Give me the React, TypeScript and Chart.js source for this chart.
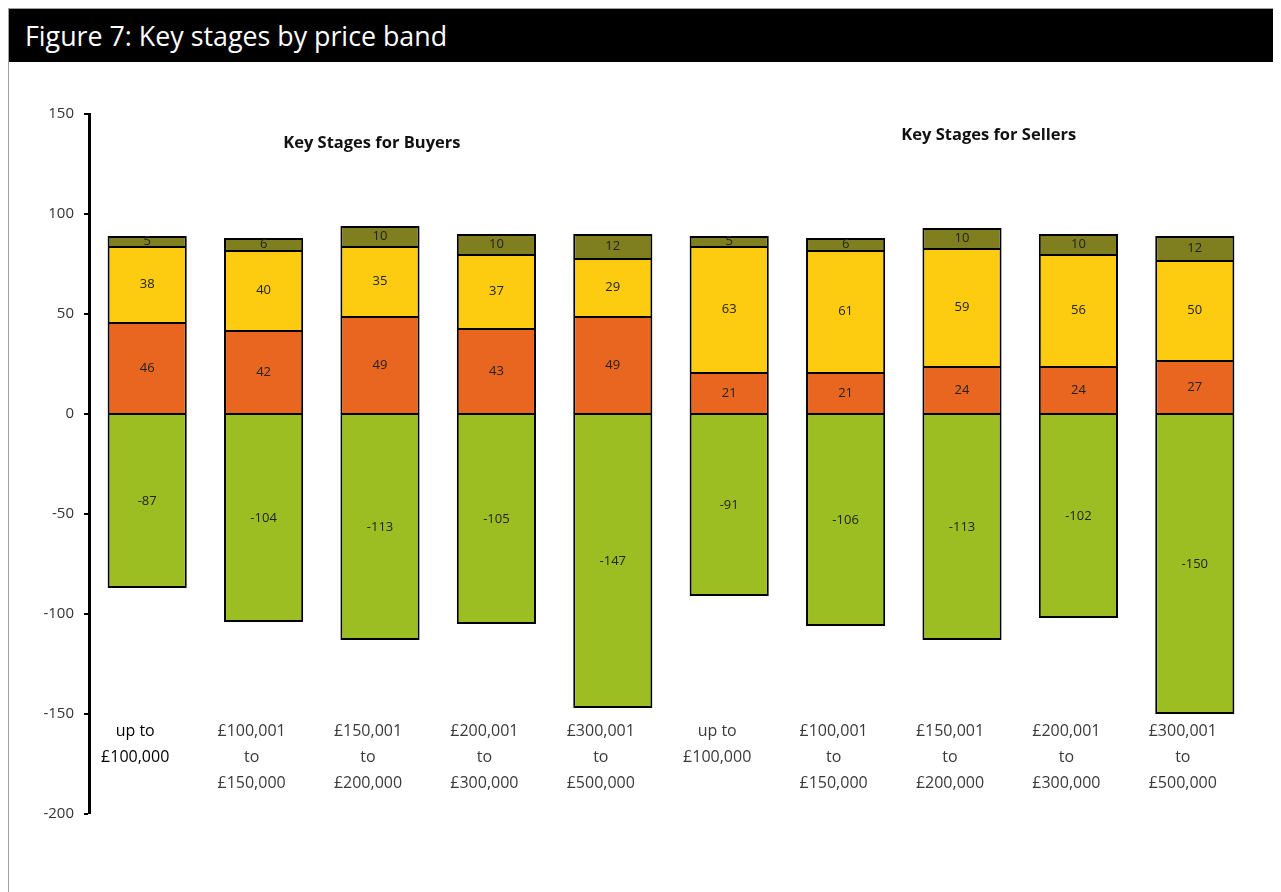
import React, { useEffect, useRef } from "react";
import { Chart, registerables } from "chart.js";

Chart.register(...registerables);

// ---- Data ----
const priceBands: string[][] = [
  ["up to", "£100,000"],
  ["£100,001", "to", "£150,000"],
  ["£150,001", "to", "£200,000"],
  ["£200,001", "to", "£300,000"],
  ["£300,001", "to", "£500,000"],
];
const categories: string[][] = [...priceBands, ...priceBands];

const stageGreen = [-87, -104, -113, -105, -147, -91, -106, -113, -102, -150];
const stageOrange = [46, 42, 49, 43, 49, 21, 21, 24, 24, 27];
const stageYellow = [38, 40, 35, 37, 29, 63, 61, 59, 56, 50];
const stageOlive = [5, 6, 10, 10, 12, 5, 6, 10, 10, 12];

const yMin = -200;
const yMax = 150;
const yStep = 50;

const panelTitles = ["Key Stages for Buyers", "Key Stages for Sellers"];
// anchor of each panel title: category index (fractional) and y value
const panelTitleAnchors = [
  { index: 1.93, value: 135.5 },
  { index: 7.23, value: 139.5 },
];

const FONT = "'Open Sans', 'Noto Sans', sans-serif";

const dataLabelPlugin = {
  id: "segmentLabels",
  afterDatasetsDraw(chart: any) {
    const ctx = chart.ctx;
    ctx.save();
    ctx.font = `13px ${FONT}`;
    ctx.fillStyle = "#222";
    ctx.textAlign = "center";
    ctx.textBaseline = "middle";
    chart.data.datasets.forEach((ds: any, di: number) => {
      const meta = chart.getDatasetMeta(di);
      meta.data.forEach((el: any, i: number) => {
        const v = ds.data[i];
        const y = (el.y + el.base) / 2;
        ctx.fillText(String(v), el.x, y);
      });
    });
    ctx.restore();
  },
};

const panelTitlePlugin = {
  id: "panelTitles",
  afterDraw(chart: any) {
    const ctx = chart.ctx;
    const xs = chart.scales.x;
    const ys = chart.scales.y;
    ctx.save();
    ctx.font = `bold 16.5px ${FONT}`;
    ctx.fillStyle = "#111";
    ctx.textAlign = "center";
    ctx.textBaseline = "middle";
    panelTitles.forEach((t, i) => {
      const a = panelTitleAnchors[i];
      ctx.fillText(t, xs.getPixelForValue(a.index), ys.getPixelForValue(a.value));
    });
    ctx.restore();
  },
};

function KeyStagesChart() {
  const ref = useRef<HTMLCanvasElement | null>(null);
  useEffect(() => {
    if (!ref.current) return;
    Chart.defaults.font.family = FONT;
    const common = {
      borderColor: "#000",
      borderSkipped: false,
      categoryPercentage: 1,
      barPercentage: 0.68,
    };
    const upper = { top: 2, left: 2, right: 2, bottom: 0 };
    const chart = new Chart(ref.current, {
      type: "bar",
      data: {
        labels: categories as any,
        datasets: [
          {
            label: "Stage 1",
            data: stageGreen,
            backgroundColor: "#9DBE22",
            borderWidth: { top: 1, left: 2, right: 2, bottom: 2 },
            ...common,
          },
          {
            label: "Stage 2",
            data: stageOrange,
            backgroundColor: "#E96620",
            borderWidth: { top: 2, left: 2, right: 2, bottom: 1 },
            ...common,
          },
          { label: "Stage 3", data: stageYellow, backgroundColor: "#FDCB0F", borderWidth: upper, ...common },
          { label: "Stage 4", data: stageOlive, backgroundColor: "#7F7F20", borderWidth: upper, ...common },
        ] as any,
      },
      options: {
        animation: false,
        responsive: true,
        maintainAspectRatio: false,
        layout: { padding: { top: 52, bottom: 78, left: 0, right: 23 } },
        plugins: {
          legend: { display: false },
          tooltip: { enabled: false },
        },
        scales: {
          x: {
            stacked: true,
            position: { y: -150 } as any,
            grid: { display: false, drawTicks: false },
            border: { display: false },
            ticks: {
              padding: 4,
              labelOffset: -12,
              maxRotation: 0,
              autoSkip: false,
              font: { size: 16, lineHeight: "26px" as any },
              color: (c: any) => (c.index === 0 ? "#000" : "#3a3a3a"),
            },
          },
          y: {
            stacked: true,
            min: yMin,
            max: yMax,
            afterFit: (s: any) => {
              s.width = 80;
            },
            grid: {
              display: true,
              drawOnChartArea: false,
              drawTicks: true,
              tickLength: 5,
              lineWidth: 0,
              tickWidth: 2,
              tickColor: "#000",
              color: "#000",
            },
            border: { display: true, color: "#000", width: 3 },
            ticks: {
              stepSize: yStep,
              padding: 10,
              font: { size: 15 },
              color: "#333",
            },
          },
        },
      },
      plugins: [dataLabelPlugin, panelTitlePlugin],
    } as any);
    return () => chart.destroy();
  }, []);
  return (
    <div style={{ position: "relative", width: 1267, height: 830 }}>
      <canvas ref={ref} />
    </div>
  );
}

export default function App() {
  return (
    <div
      style={{
        width: 1267,
        height: 900,
        border: "1px solid #a0a0a0",
        background: "#fff",
        fontFamily: FONT,
      }}
    >
      <div
        style={{
          height: 53,
          background: "#000",
          color: "#fff",
          fontSize: 26.8,
          display: "flex",
          alignItems: "center",
          paddingLeft: 16,
          boxSizing: "border-box",
        }}
      >
        Figure 7: Key stages by price band
      </div>
      <KeyStagesChart />
    </div>
  );
}
